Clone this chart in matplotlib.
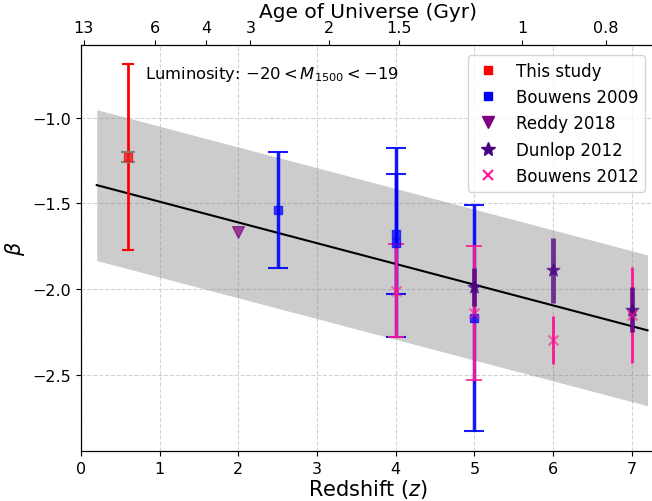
import numpy as np
import matplotlib
matplotlib.use("Agg")
import matplotlib.pyplot as plt
from matplotlib.lines import Line2D

# ── Data ────────────────────────────────────────────────────────────────────
this_z = [0.6]
this_beta = [-1.23]
this_err = [0.54]
this_err_stat = [0.03]

b09_z = [2.5, 4.0, 4.0, 5.0]
b09_beta = [-1.54, -1.73, -1.68, -2.17]
b09_err = [0.34, 0.55, 0.35, 0.66]

reddy_z = [2.0]
reddy_beta = [-1.67]

dunlop_z = [5.0, 6.0, 7.0]
dunlop_beta = [-1.99, -1.89, -2.12]
dunlop_err = [0.11, 0.19, 0.13]

b12_z_capped = [4.0, 5.0]
b12_beta_capped = [-2.01, -2.14]
b12_err_capped = [0.27, 0.39]
b12_z = [6.0, 7.0]
b12_beta = [-2.30, -2.15]
b12_err = [0.14, 0.28]

# linear relation and its scatter band
fit_intercept = -1.37
fit_slope = -0.121
fit_scatter = 0.44
fit_zrange = (0.2, 7.2)

age_ticks = [13, 6, 4, 3, 2, 1.5, 1, 0.8]
age_labels = ["13", "6", "4", "3", "2", "1.5", "1", "0.8"]


# ── Helpers ──────────────────────────────────────────────────────────────────
def z_from_age(t_gyr, H0=70.0, Om=0.3):
    """Flat LCDM: invert the analytic age-redshift relation."""
    OL = 1.0 - Om
    t_h = 977.8 / H0
    t = np.asarray(t_gyr, dtype=float)
    x = np.sinh(t / (2.0 / 3.0 * t_h / np.sqrt(OL)))
    return (np.sqrt(OL / Om) / x) ** (2.0 / 3.0) - 1.0


# ── Plot ─────────────────────────────────────────────────────────────────────
fig = plt.figure(figsize=(6.52, 5.02), dpi=100)
ax = fig.add_axes([0.1242, 0.0996, 0.881, 0.8088])

zz = np.linspace(*fit_zrange, 100)
line = fit_intercept + fit_slope * zz
ax.fill_between(zz, line - fit_scatter, line + fit_scatter,
                color="grey", alpha=0.4, lw=0, zorder=1)
ax.plot(zz, line, color="black", lw=1.5, zorder=2)

# error bars
ax.errorbar(this_z, this_beta, yerr=this_err, fmt="none", ecolor="red",
            elinewidth=2, capsize=4, capthick=1.5, zorder=3)
ax.errorbar(this_z, this_beta, yerr=this_err_stat, fmt="none", ecolor="grey",
            elinewidth=2, capsize=5, capthick=1.5, zorder=4)
ax.errorbar(b09_z, b09_beta, yerr=b09_err, fmt="none", ecolor="blue",
            elinewidth=2.5, capsize=7, capthick=1.5, alpha=0.9, zorder=3)
ax.errorbar(b12_z_capped, b12_beta_capped, yerr=b12_err_capped, fmt="none",
            ecolor="deeppink", elinewidth=2, capsize=5.5, capthick=1.2, zorder=4)
ax.errorbar(b12_z, b12_beta, yerr=b12_err, fmt="none", ecolor="deeppink",
            elinewidth=2, zorder=4)
ax.errorbar(dunlop_z, dunlop_beta, yerr=dunlop_err, fmt="none", ecolor="indigo",
            elinewidth=3.5, alpha=0.75, zorder=5)

# markers
ax.scatter(this_z, this_beta, marker="s", s=40, color="red", alpha=0.7, zorder=6)
ax.scatter(b09_z, b09_beta, marker="s", s=40, color="blue", alpha=0.7, zorder=6)
ax.scatter(reddy_z, reddy_beta, marker="v", s=70, color="purple", alpha=0.7, zorder=6)
ax.scatter(dunlop_z, dunlop_beta, marker="*", s=90, color="indigo", alpha=0.7, zorder=6)
ax.scatter(b12_z_capped + b12_z, b12_beta_capped + b12_beta, marker="x", s=50,
           color="deeppink", alpha=0.6, zorder=6)

ax.set_xlim(0, 7.3)
ax.set_ylim(-2.945, -0.577)
ax.set_xticks(range(0, 8))
ax.set_yticks([-2.5, -2.0, -1.5, -1.0])
ax.tick_params(labelsize=11.5)
ax.grid(True, ls="--", color="lightgrey", lw=0.8, zorder=0)
ax.set_axisbelow(True)
ax.set_xlabel("Redshift ($z$)", fontsize=15, labelpad=1)
ax.set_ylabel(r"$\beta$", fontsize=15)

ax.text(0.111, 0.93, r"Luminosity: $-20 < M_{1500} < -19$",
        transform=ax.transAxes, fontsize=11.75, va="center", ha="left")

handles = [
    Line2D([], [], ls="none", marker="s", ms=6, color="red", label="This study"),
    Line2D([], [], ls="none", marker="s", ms=6, color="blue", label="Bouwens 2009"),
    Line2D([], [], ls="none", marker="v", ms=9, color="purple", label="Reddy 2018"),
    Line2D([], [], ls="none", marker="*", ms=10, color="indigo", label="Dunlop 2012"),
    Line2D([], [], ls="none", marker="x", ms=7, mew=1.5, color="deeppink",
           label="Bouwens 2012"),
]
ax.legend(handles=handles, loc="upper right", fontsize=12,
          borderaxespad=0.6, handlelength=1.6, handletextpad=0.9,
          labelspacing=0.5)

# top axis: age of the universe
ax2 = ax.twiny()
ax2.set_xlim(ax.get_xlim())
ax2.set_xticks(z_from_age(age_ticks))
ax2.set_xticklabels(age_labels)
ax2.tick_params(labelsize=11.5)
ax2.set_xlabel("Age of Universe (Gyr)", fontsize=14.5, labelpad=2.5)

fig.savefig("out.png", dpi=100)
